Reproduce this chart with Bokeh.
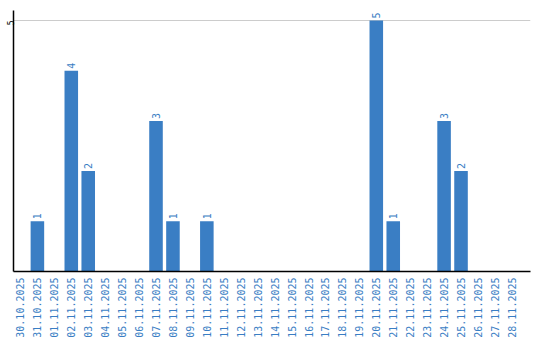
import math
from bokeh.plotting import figure
from bokeh.models import FixedTicker, Range1d, ColumnDataSource
from bokeh.core.properties import value
from bokeh.embed import file_html
from bokeh.resources import INLINE

dates = ["30.10.2025", "31.10.2025", "01.11.2025", "02.11.2025", "03.11.2025",
         "04.11.2025", "05.11.2025", "06.11.2025", "07.11.2025", "08.11.2025",
         "09.11.2025", "10.11.2025", "11.11.2025", "12.11.2025", "13.11.2025",
         "14.11.2025", "15.11.2025", "16.11.2025", "17.11.2025", "18.11.2025",
         "19.11.2025", "20.11.2025", "21.11.2025", "22.11.2025", "23.11.2025",
         "24.11.2025", "25.11.2025", "26.11.2025", "27.11.2025", "28.11.2025"]
counts = [0, 1, 0, 4, 2, 0, 0, 0, 3, 1, 0, 1, 0, 0, 0,
          0, 0, 0, 0, 0, 0, 5, 1, 0, 0, 3, 2, 0, 0, 0]
y_ticks = [5]

BLUE = "#3a7ec4"
MONO = "DejaVu Sans Mono"

idx = list(range(len(dates)))
src = ColumnDataSource(dict(x=idx, y=counts))
nz = [i for i in idx if counts[i] > 0]
src_lbl = ColumnDataSource(dict(x=nz, y=[counts[i] for i in nz], lbl=[str(counts[i]) for i in nz]))

p = figure(width=540, height=340, output_backend="svg", toolbar_location=None,
           x_range=Range1d(-0.41, 30.1), y_range=Range1d(0, 5.2),
           min_border_left=11, min_border_right=10, min_border_top=10, min_border_bottom=0)
p.outline_line_color = None
p.background_fill_color = "white"

p.vbar(x="x", top="y", width=0.8, source=src, fill_color=BLUE, line_color=None)
p.text(x="x", y="y", text="lbl", source=src_lbl, angle=math.pi / 2,
       text_align="left", text_baseline="middle", y_offset=-2,
       text_color=BLUE, text_font=value(MONO), text_font_size="10px")

p.xaxis.ticker = FixedTicker(ticks=idx)
p.xaxis.major_label_overrides = {i: d for i, d in zip(idx, dates)}
p.xaxis.major_label_orientation = math.pi / 2
p.xaxis.major_label_text_color = BLUE
p.xaxis.major_label_text_font = MONO
p.xaxis.major_label_text_font_size = "10px"
p.xaxis.major_tick_line_color = None
p.xaxis.minor_tick_line_color = None
p.xaxis.major_tick_out = 0
p.xaxis.major_tick_in = 0
p.xaxis.axis_line_color = "black"
p.xaxis.axis_line_width = 1.5
p.xaxis.major_label_standoff = 6

p.yaxis.ticker = FixedTicker(ticks=y_ticks)
p.yaxis.major_label_orientation = math.pi / 2
p.yaxis.major_label_text_color = "black"
p.yaxis.major_label_text_font = MONO
p.yaxis.major_label_text_font_size = "8px"
p.yaxis.major_tick_line_color = None
p.yaxis.minor_tick_line_color = None
p.yaxis.major_tick_out = 0
p.yaxis.major_tick_in = 0
p.yaxis.axis_line_color = "black"
p.yaxis.axis_line_width = 1.5
p.yaxis.major_label_standoff = 3

p.xgrid.grid_line_color = None
p.ygrid.ticker = FixedTicker(ticks=y_ticks)
p.ygrid.grid_line_color = "#cccccc"

open("out.html", "w").write(file_html(p, INLINE))
